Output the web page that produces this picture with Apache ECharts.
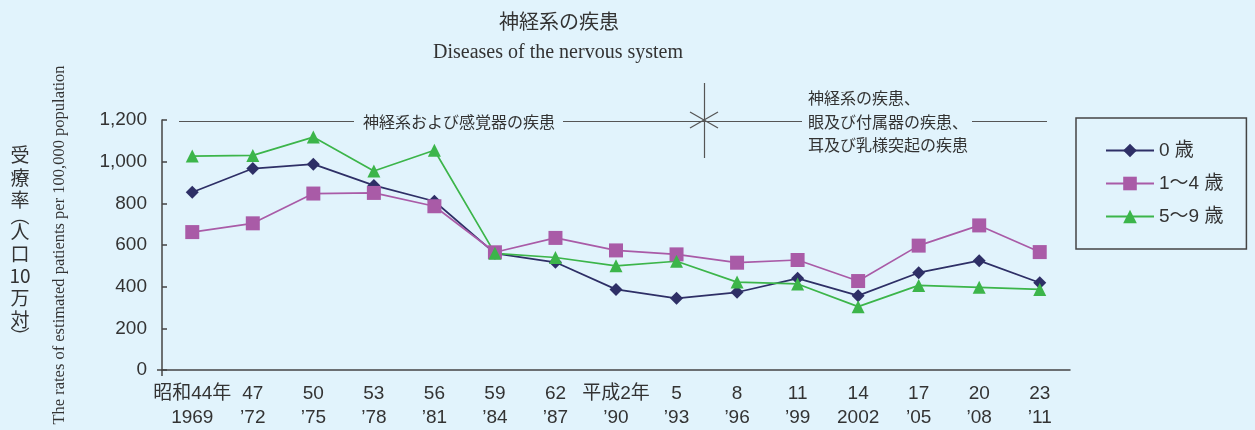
<!DOCTYPE html>
<html><head><meta charset="utf-8">
<script src="https://cdn.jsdelivr.net/npm/echarts@6/dist/echarts.min.js"></script>
<style>html,body{margin:0;padding:0;background:#e1f3fc;}#c{width:1255px;height:430px;}</style>
</head><body><div id="c"></div>
<script>
const eraLabels = ['昭和44年','47','50','53','56','59','62','平成2年','5','8','11','14','17','20','23'];
const yearLabels = ['1969','’72','’75','’78','’81','’84','’87','’90','’93','’96','’99','2002','’05','’08','’11'];
const seriesNames = ['0 歳','1～4 歳','5～9 歳'];
const age0 = [853, 967, 988, 886, 810, 560, 517, 387, 344, 373, 440, 357, 467, 525, 419];
const age1to4 = [662, 704, 847, 850, 786, 565, 634, 574, 555, 515, 528, 427, 597, 694, 566];
const age5to9 = [1027, 1030, 1118, 955, 1055, 560, 540, 500, 522, 422, 413, 304, 406, 397, 387];
const yTicks = {min: 0, max: 1200, interval: 200};

const categories = eraLabels.map((e, i) => e + '\n' + yearLabels[i]);
const FONT = '"Liberation Sans", "Noto Sans CJK JP", sans-serif';
const JFONT = '"Noto Sans CJK JP", "Liberation Sans", sans-serif';
const SERIF = '"Liberation Serif", "Times New Roman", serif';
const TXT = '#333333';
const AX = '#444444';

const vLabel = [['受',155],['療',178],['率',200],['︵',216],['人',232],['口',254],['10',276],['万',298],['対',320],['︶',337]];

const chart = echarts.init(document.getElementById('c'));
const mk = (name, data, color, symbol, size) => ({
  name, type: 'line', data, symbol, symbolSize: size,
  lineStyle: {color, width: 1.7}, itemStyle: {color},
  emphasis: {disabled: true}, animation: false
});
chart.setOption({
  backgroundColor: '#e1f3fc',
  animation: false,
  textStyle: {fontFamily: FONT, color: TXT},
  grid: {left: 162, right: 185, top: 120, bottom: 60},
  xAxis: {
    type: 'category', data: categories, boundaryGap: true,
    axisLine: {lineStyle: {color: AX, width: 1.5}},
    axisTick: {alignWithLabel: true, length: 5, lineStyle: {color: AX, width: 1.5}},
    axisLabel: {fontSize: 19, lineHeight: 24, margin: 12, color: TXT, fontFamily: FONT, interval: 0}
  },
  yAxis: {
    type: 'value', min: yTicks.min, max: yTicks.max, interval: yTicks.interval,
    axisLine: {show: true, lineStyle: {color: AX, width: 1.5}},
    axisTick: {show: true, inside: true, length: 5, lineStyle: {color: AX, width: 1.5}},
    splitLine: {show: false},
    axisLabel: {fontSize: 19, margin: 15, color: TXT, fontFamily: FONT,
      formatter: v => v.toLocaleString('en-US')}
  },
  legend: {
    orient: 'vertical', left: 1076, top: 118,
    data: seriesNames,
    itemWidth: 48, itemHeight: 17, itemGap: 14,
    padding: [23, 23, 23, 29],
    borderColor: '#444', borderWidth: 1.5,
    textStyle: {fontSize: 19, lineHeight: 18, color: TXT, fontFamily: FONT}
  },
  series: [
    mk(seriesNames[0], age0, '#2e2f66', 'diamond', 13),
    mk(seriesNames[1], age1to4, '#a95ba7', 'rect', 14),
    mk(seriesNames[2], age5to9, '#3cb54a', 'triangle', 13)
  ],
  graphic: [
    {type: 'text', x: 559, y: 21, style: {text: '神経系の疾患', font: '20px ' + JFONT, fill: TXT, textAlign: 'center', textVerticalAlign: 'middle'}},
    {type: 'text', x: 558, y: 53, style: {text: 'Diseases of the nervous system', font: '20px ' + SERIF, fill: TXT, textAlign: 'center', textVerticalAlign: 'middle'}},
    {type: 'text', x: 60, y: 245, rotation: Math.PI / 2, style: {text: 'The rates of estimated patients per 100,000 population', font: '16.5px ' + SERIF, fill: TXT, textAlign: 'center', textVerticalAlign: 'middle'}},
    ...vLabel.map(([t, y]) => ({type: 'text', x: 20, y: y, style: {text: t, font: '19px ' + JFONT, fill: TXT, textAlign: 'center', textVerticalAlign: 'middle'}})),
    {type: 'line', shape: {x1: 179, y1: 121.5, x2: 354, y2: 121.5}, style: {stroke: '#555', lineWidth: 1.2}},
    {type: 'text', x: 363, y: 121.5, style: {text: '神経系および感覚器の疾患', font: '16px ' + JFONT, fill: TXT, textVerticalAlign: 'middle'}},
    {type: 'line', shape: {x1: 563, y1: 121.5, x2: 802, y2: 121.5}, style: {stroke: '#555', lineWidth: 1.2}},
    {type: 'line', shape: {x1: 704.5, y1: 83, x2: 704.5, y2: 158}, style: {stroke: '#555', lineWidth: 1.2}},
    {type: 'line', shape: {x1: 690, y1: 112, x2: 718, y2: 128}, style: {stroke: '#555', lineWidth: 1.2}},
    {type: 'line', shape: {x1: 690, y1: 128, x2: 718, y2: 112}, style: {stroke: '#555', lineWidth: 1.2}},
    {type: 'text', x: 808, y: 98, style: {text: '神経系の疾患、', font: '16px ' + JFONT, fill: TXT, textVerticalAlign: 'middle'}},
    {type: 'text', x: 808, y: 121.5, style: {text: '眼及び付属器の疾患、', font: '16px ' + JFONT, fill: TXT, textVerticalAlign: 'middle'}},
    {type: 'text', x: 808, y: 145, style: {text: '耳及び乳様突起の疾患', font: '16px ' + JFONT, fill: TXT, textVerticalAlign: 'middle'}},
    {type: 'line', shape: {x1: 972, y1: 121.5, x2: 1047, y2: 121.5}, style: {stroke: '#555', lineWidth: 1.2}},
    {type: 'line', shape: {x1: 157, y1: 370, x2: 162, y2: 370}, style: {stroke: AX, lineWidth: 1.5}},
    {type: 'line', shape: {x1: 162, y1: 370, x2: 162, y2: 376}, style: {stroke: AX, lineWidth: 1.5}}
  ]
});
</script></body></html>
